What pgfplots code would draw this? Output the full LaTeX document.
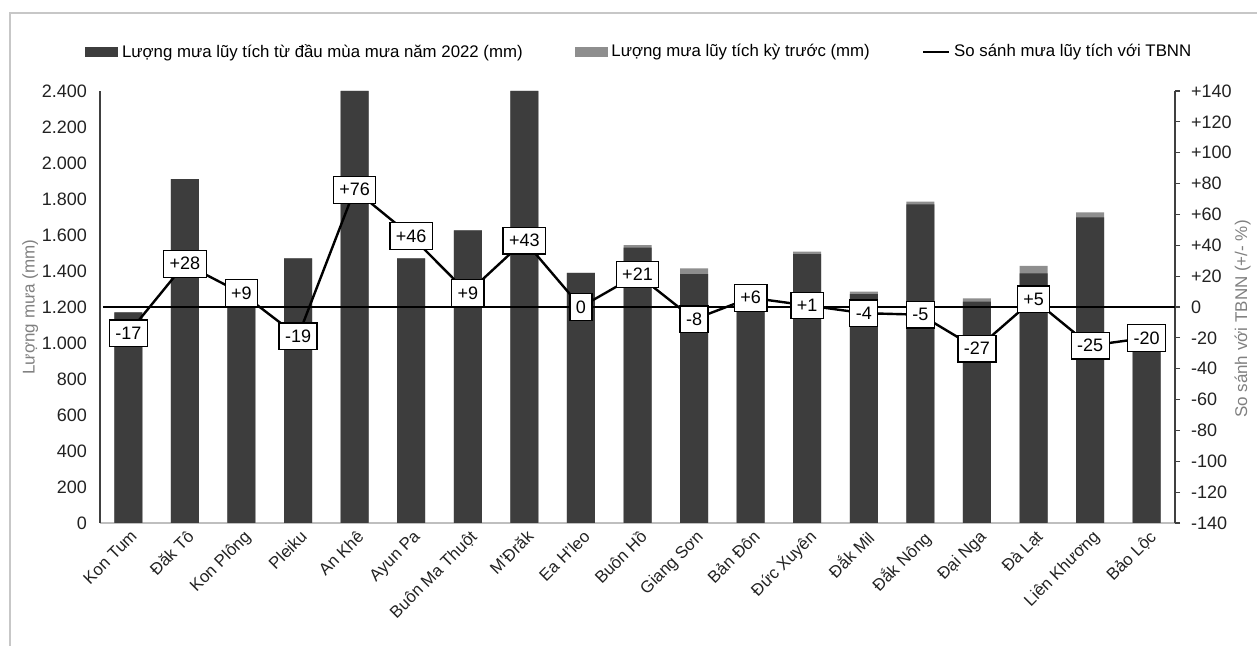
\documentclass[border=0pt]{standalone}
\usepackage{pgfplots}
\usepackage{pgfplotstable}
\pgfplotsset{compat=1.18}
\usepackage{fontspec}
\setmainfont{Liberation Sans}
\definecolor{darkbar}{HTML}{3D3D3D}
\definecolor{lightbar}{HTML}{8E8E8E}
\definecolor{labgray}{HTML}{808080}
\definecolor{ticktext}{HTML}{222222}

\pgfplotstableread{
x cur prev
0 1170 1170
1 1910 1910
2 1200 1200
3 1470 1470
4 2400 2400
5 1470 1470
6 1625 1625
7 2400 2400
8 1390 1390
9 1530 1544
10 1383 1415
11 1230 1230
12 1494 1507
13 1272 1285
14 1770 1785
15 1230 1248
16 1387 1428
17 1698 1726
18 970 970
}\rain

\pgfplotstableread{
x v lab
0 -17 -17
1 28 +28
2 9 +9
3 -19 -19
4 76 +76
5 46 +46
6 9 +9
7 43 +43
8 0 0
9 21 +21
10 -8 -8
11 6 +6
12 1 +1
13 -4 -4
14 -5 -5
15 -27 -27
16 5 +5
17 -25 -25
18 -20 -20
}\comp

\begin{document}
\begin{tikzpicture}
\useasboundingbox (0,0) rectangle (628.5pt,323pt);
\draw[black!22, line width=0.6pt] (5pt,0pt) -- (5pt,316.5pt) -- (640pt,316.5pt);

\begin{axis}[
  at={(50pt,61.5pt)}, anchor=south west,
  scale only axis, width=537.5pt, height=216pt,
  xmin=-0.5, xmax=18.5, ymin=0, ymax=2400,
  ytick={0,200,...,2400},
  xtick={0,...,18},
  xticklabels={Kon Tum, Đăk Tô, Kon Plông, Pleiku, An Khê, Ayun Pa, Buôn Ma Thuột, M'Đrăk, Ea H'leo, Buôn Hồ, Giang Sơn, Bản Đôn, Đức Xuyên, Đắk Mil, Đắk Nông, Đại Nga, Đà Lạt, Liên Khương, Bảo Lộc},
  axis x line*=bottom, axis y line*=left,
  x axis line style={-, draw=black!25, line width=0.8pt},
  y axis line style={-, draw=black!75, line width=0.6pt},
  xtick style={draw=none}, ytick style={draw=none},
  /pgf/number format/assume math mode=true,
  /pgf/number format/1000 sep={.},
  tick label style={font=\fontsize{9}{10}\selectfont, text=ticktext},
  yticklabel style={xshift=-3pt},
  xticklabel style={rotate=45, anchor=north east, inner sep=0pt, xshift=-1.5pt, yshift=-2.5pt, font=\fontsize{8.4}{10}\selectfont},
  ylabel={Lượng mưa (mm)},
  every axis y label/.style={at={(axis description cs:-0.065,0.5)}, rotate=90, anchor=center, font=\fontsize{8.5}{10}\selectfont, text=labgray},
  legend style={at={(axis description cs:-0.014,1.09)}, anchor=west, draw=none, fill=none, inner sep=0pt,
    font=\fontsize{8.4}{10}\selectfont, legend columns=3,
    /tikz/every even column/.append style={column sep=24pt}},
  legend cell align=left,
]
\addlegendimage{legend image code/.code={\fill[darkbar] (0pt,-2.2pt) rectangle (16pt,2.2pt);}}
\addlegendentry{Lượng mưa lũy tích từ đầu mùa mưa năm 2022 (mm)}
\addlegendimage{legend image code/.code={\fill[lightbar] (0pt,-2.2pt) rectangle (16pt,2.2pt);}}
\addlegendentry{Lượng mưa lũy tích kỳ trước (mm)}
\addlegendimage{legend image code/.code={\draw[black, line width=1.2pt] (0pt,0pt) -- (13pt,0pt);}}
\addlegendentry{So sánh mưa lũy tích với TBNN}

\addplot[ybar, bar width=14pt, bar shift=0pt, fill=lightbar, draw=none, forget plot] table[x=x, y=prev] {\rain};
\addplot[ybar, bar width=14pt, bar shift=0pt, fill=darkbar, draw=none, forget plot] table[x=x, y=cur] {\rain};
\end{axis}

\begin{axis}[
  at={(50pt,61.5pt)}, anchor=south west,
  scale only axis, width=537.5pt, height=216pt,
  xmin=-0.5, xmax=18.5, ymin=-140, ymax=140,
  axis x line=none, axis y line*=right,
  y axis line style={-, draw=black!75, line width=0.6pt},
  ytick={-140,-120,...,140},
  yticklabels={-140,-120,-100,-80,-60,-40,-20,0,+20,+40,+60,+80,+100,+120,+140},
  tick align=outside, major tick length=2.5pt,
  ytick style={draw=black!75, line width=0.6pt},
  tick label style={font=\fontsize{9}{10}\selectfont, text=ticktext},
  yticklabel style={anchor=west, xshift=2pt},
  ylabel={So sánh với TBNN (+/- \%)},
  every axis y label/.style={at={(axis description cs:1.063,0.472)}, rotate=90, anchor=center, font=\fontsize{8.5}{10}\selectfont, text=labgray},
  clip=false,
]
\addplot[black, line width=0.6pt, forget plot] coordinates {(-0.45,0) (18.5,0)};
\addplot[black, line width=1.2pt, mark=none,
  point meta=explicit symbolic,
  nodes near coords,
  every node near coord/.append style={anchor=center, fill=white, draw=black, line width=0.6pt,
    font=\fontsize{9}{10}\selectfont, inner xsep=3pt, inner ysep=3.5pt, text=black}]
  table[x=x, y=v, meta=lab] {\comp};
\end{axis}
\end{tikzpicture}
\end{document}
